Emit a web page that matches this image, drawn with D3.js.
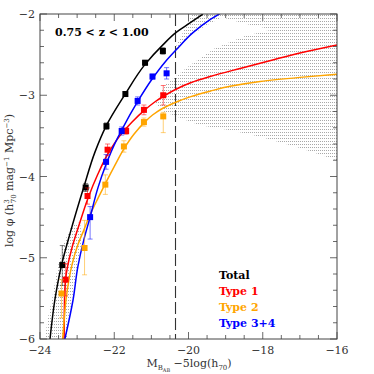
<!DOCTYPE html>
<html>
<head>
<meta charset="utf-8">
<script src="https://cdn.jsdelivr.net/npm/d3@7"></script>
<style>
  body { margin: 0; background: #fff; }
  text { font-family: "DejaVu Serif", "Liberation Serif", serif; }
</style>
</head>
<body>
<div id="chart"></div>
<script>
// fitted curves as [M, log phi]
const totalCurve = [[-23.73,-6.0],[-23.60,-5.52],[-23.42,-5.09],[-23.19,-4.70],[-22.82,-4.13],[-22.52,-3.70],[-22.22,-3.38],[-21.71,-2.99],[-21.17,-2.62],[-20.69,-2.38],[-20.34,-2.23],[-19.96,-2.11],[-19.61,-2.0]];
const type1Curve = [[-23.35,-6.0],[-23.34,-5.52],[-23.31,-5.26],[-23.25,-5.09],[-23.14,-4.88],[-22.95,-4.60],[-22.71,-4.27],[-22.44,-3.97],[-22.17,-3.72],[-21.85,-3.50],[-21.52,-3.33],[-21.20,-3.19],[-20.90,-3.08],[-20.63,-3.00],[-20.31,-2.92],[-19.96,-2.85],[-19.42,-2.77],[-18.61,-2.67],[-17.81,-2.575],[-17.00,-2.48],[-16.0,-2.38]];
const type2Curve = [[-23.39,-6.0],[-23.35,-5.77],[-23.30,-5.52],[-23.22,-5.27],[-23.14,-5.09],[-22.98,-4.84],[-22.82,-4.66],[-22.63,-4.45],[-22.44,-4.27],[-22.22,-4.07],[-21.98,-3.86],[-21.74,-3.66],[-21.47,-3.48],[-21.20,-3.34],[-20.96,-3.24],[-20.69,-3.16],[-20.31,-3.08],[-19.96,-3.02],[-19.42,-2.95],[-18.88,-2.89],[-18.07,-2.83],[-17.00,-2.78],[-16.0,-2.74]];
const type34Curve = [[-23.33,-6.0],[-23.11,-5.52],[-22.98,-5.11],[-22.82,-4.78],[-22.65,-4.50],[-22.44,-4.14],[-22.22,-3.85],[-22.01,-3.62],[-21.79,-3.42],[-21.36,-3.07],[-20.98,-2.80],[-20.63,-2.59],[-20.31,-2.43],[-19.88,-2.23],[-19.42,-2.07],[-19.10,-1.98]];

// hatched uncertainty regions (outlines)
const fanFaint = [[-20.36,-2.42],[-20.09,-2.17],[-19.91,-2.0],[-16,-2.0],[-16,-3.80],[-17.0,-3.65],[-18.07,-3.51],[-18.88,-3.43],[-19.69,-3.37],[-20.04,-3.31],[-20.63,-3.21],[-20.90,-3.10],[-20.63,-2.87],[-19.96,-2.63],[-19.29,-2.42],[-18.48,-2.27],[-17.75,-2.19],[-18.48,-2.12],[-19.10,-2.04],[-19.56,-2.15],[-19.96,-2.27],[-20.31,-2.44]];
const fanBright = [[-23.87,-6.0],[-23.79,-5.74],[-23.68,-5.52],[-23.54,-5.15],[-23.38,-4.84],[-23.14,-4.60],[-22.92,-4.56],[-22.87,-4.78],[-23.0,-5.11],[-23.14,-5.52],[-23.25,-5.77],[-23.27,-6.0]];

// binned points
const totalM = [-23.40,-22.77,-22.21,-21.70,-21.17,-20.69];
const totalPhi = [-5.09,-4.135,-3.38,-2.985,-2.60,-2.455];
const totalErr = [[0.24,0.25],[0.05,0.05],[0.04,0.04],[0.03,0.03],[0.03,0.03],[0.04,0.04]];
const type1M = [-23.31,-22.72,-22.18,-21.68,-21.20,-20.68];
const type1Phi = [-5.27,-4.24,-3.67,-3.44,-3.18,-3.00];
const type1Err = [[0.2,0.2],[0.1,0.1],[0.07,0.07],[0.04,0.04],[0.06,0.06],[0.12,0.12]];
const type2M = [-23.42,-22.80,-22.24,-21.74,-21.20,-20.68];
const type2Phi = [-5.44,-4.88,-4.10,-3.63,-3.33,-3.26];
const type2Err = [[0.17,0.3],[0.34,0.33],[0.12,0.12],[0.07,0.07],[0.05,0.05],[0.05,0.2]];
const type34M = [-22.65,-22.22,-21.80,-21.37,-20.97,-20.59];
const type34Phi = [-4.50,-3.82,-3.44,-3.07,-2.77,-2.73];
const type34Err = [[0.13,0.27],[0.09,0.09],[0.05,0.05],[0.05,0.05],[0.03,0.03],[0.07,0.07]];

const limitM = -20.35;
const xTicks = [-24, -22, -20, -18, -16];
const yTicks = [-2, -3, -4, -5, -6];
const legendLabels = ["Total", "Type 1", "Type 2", "Type 3+4"];
const colors = ["#000000", "#ff0000", "#ffa500", "#0000ff"];

const width = 374, height = 374;
const margin = {left: 40, right: 37, top: 14, bottom: 35};

const svg = d3.select("#chart").append("svg")
  .attr("width", width)
  .attr("height", height);

const x = d3.scaleLinear().domain([-24, -16]).range([margin.left, width - margin.right]);
const y = d3.scaleLinear().domain([-6, -2]).range([height - margin.bottom, margin.top]);

const defs = svg.append("defs");
defs.append("clipPath").attr("id", "plotclip")
  .append("rect")
  .attr("x", x(-24)).attr("y", y(-2))
  .attr("width", x(-16) - x(-24)).attr("height", y(-6) - y(-2));

// dotted hatch texture
const pat = defs.append("pattern").attr("id", "dots")
  .attr("patternUnits", "userSpaceOnUse")
  .attr("width", 2).attr("height", 3);
pat.append("rect").attr("width", 1).attr("height", 1).attr("fill", "#a8a8a8");

const plot = svg.append("g").attr("clip-path", "url(#plotclip)");

const area = d3.line().x(d => x(d[0])).y(d => y(d[1])).curve(d3.curveLinearClosed);
[fanFaint, fanBright].forEach(f => {
  plot.append("path").attr("d", area(f)).attr("fill", "url(#dots)");
});

// completeness limit
plot.append("line")
  .attr("x1", x(limitM)).attr("x2", x(limitM))
  .attr("y1", y(-2)).attr("y2", y(-6))
  .attr("stroke", "#333").attr("stroke-width", 1.1)
  .attr("stroke-dasharray", "12,4");

const line = d3.line().x(d => x(d[0])).y(d => y(d[1])).curve(d3.curveMonotoneY);
[totalCurve, type1Curve, type2Curve, type34Curve].forEach((c, i) => {
  plot.append("path").attr("d", line(c.slice().reverse()))
    .attr("fill", "none").attr("stroke", colors[i]).attr("stroke-width", 1.5);
});

// points + error bars
const sets = [
  [totalM, totalPhi, totalErr],
  [type1M, type1Phi, type1Err],
  [type2M, type2Phi, type2Err],
  [type34M, type34Phi, type34Err]
];
sets.forEach(([ms, phis, errs], i) => {
  const pts = ms.map((m, j) => ({m, p: phis[j], up: errs[j][0], dn: errs[j][1]}));
  const g = plot.append("g");
  const eb = g.selectAll(".eb").data(pts).join("g")
    .attr("stroke", colors[i]).attr("stroke-width", 0.9)
    .attr("stroke-opacity", i === 0 ? 0.55 : 0.6);
  eb.append("line")
    .attr("x1", d => x(d.m)).attr("x2", d => x(d.m))
    .attr("y1", d => y(d.p + d.up)).attr("y2", d => y(d.p - d.dn));
  eb.append("line")
    .attr("x1", d => x(d.m) - 2.5).attr("x2", d => x(d.m) + 2.5)
    .attr("y1", d => y(d.p + d.up)).attr("y2", d => y(d.p + d.up));
  eb.append("line")
    .attr("x1", d => x(d.m) - 2.5).attr("x2", d => x(d.m) + 2.5)
    .attr("y1", d => y(d.p - d.dn)).attr("y2", d => y(d.p - d.dn));
  g.selectAll("rect").data(pts).join("rect")
    .attr("x", d => x(d.m) - 3).attr("y", d => y(d.p) - 3)
    .attr("width", 6).attr("height", 6)
    .attr("fill", colors[i]);
});

// frame and ticks
const axisColor = "#444";
svg.append("rect")
  .attr("x", x(-24)).attr("y", y(-2))
  .attr("width", x(-16) - x(-24)).attr("height", y(-6) - y(-2))
  .attr("fill", "none").attr("stroke", axisColor).attr("stroke-width", 1);

const tk = svg.append("g").attr("stroke", axisColor).attr("stroke-width", 0.8);
d3.range(-24, -15.99, 0.5).forEach(v => {
  const len = Math.abs(v % 2) < 1e-6 ? 7 : 4;
  tk.append("line").attr("x1", x(v)).attr("x2", x(v)).attr("y1", y(-6)).attr("y2", y(-6) - len);
  tk.append("line").attr("x1", x(v)).attr("x2", x(v)).attr("y1", y(-2)).attr("y2", y(-2) + len);
});
d3.range(-6, -1.99, 0.2).forEach(v => {
  const len = Math.abs(Math.round(v) - v) < 1e-6 ? 7 : 4;
  tk.append("line").attr("x1", x(-24)).attr("x2", x(-24) + len).attr("y1", y(v)).attr("y2", y(v));
  tk.append("line").attr("x1", x(-16)).attr("x2", x(-16) - len).attr("y1", y(v)).attr("y2", y(v));
});

const fmt = v => (v < 0 ? "\u2212" : "") + Math.abs(v);
svg.selectAll(".xt").data(xTicks).join("text")
  .attr("x", d => x(d)).attr("y", y(-6) + 15)
  .attr("text-anchor", "middle").attr("font-size", 11).attr("fill", "#333")
  .text(fmt);
svg.selectAll(".yt").data(yTicks).join("text")
  .attr("x", x(-24) - 5).attr("y", d => y(d) + 4)
  .attr("text-anchor", "end").attr("font-size", 11).attr("fill", "#333")
  .text(fmt);

// axis titles
const xl = svg.append("text")
  .attr("x", 189).attr("y", 367)
  .attr("text-anchor", "middle").attr("font-size", 11).attr("fill", "#333");
xl.append("tspan").text("M");
xl.append("tspan").attr("font-size", 7).attr("dy", 3).text("B");
xl.append("tspan").attr("font-size", 5).attr("dy", 2).text("AB");
xl.append("tspan").attr("dy", -5).text(" \u22125log(h");
xl.append("tspan").attr("font-size", 7).attr("dy", 3).text("70");
xl.append("tspan").attr("dy", -3).text(")");

const yl = svg.append("text")
  .attr("transform", `translate(13,${(y(-2) + y(-6)) / 2 + 4}) rotate(-90)`)
  .attr("text-anchor", "middle").attr("font-size", 11).attr("fill", "#333");
yl.append("tspan").text("log \u03c6  (h");
yl.append("tspan").attr("font-size", 7).attr("dy", -4).text("3");
yl.append("tspan").attr("font-size", 7).attr("dx", -4).attr("dy", 7).text("70");
yl.append("tspan").attr("dy", -3).text(" mag");
yl.append("tspan").attr("font-size", 7).attr("dy", -4).text("\u22121");
yl.append("tspan").attr("dy", 4).text(" Mpc");
yl.append("tspan").attr("font-size", 7).attr("dy", -4).text("\u22123");
yl.append("tspan").attr("dy", 4).text(")");

// redshift label
svg.append("text")
  .attr("x", 55).attr("y", 36)
  .attr("font-family", "DejaVu Sans, sans-serif")
  .attr("font-size", 11).attr("font-weight", "bold")
  .text("0.75 < z < 1.00");

// legend
svg.selectAll(".lg").data(legendLabels).join("text")
  .attr("x", 219).attr("y", (d, i) => 279 + i * 16)
  .attr("font-size", 11).attr("font-weight", "bold")
  .attr("fill", (d, i) => colors[i])
  .text(d => d);
</script>
</body>
</html>
